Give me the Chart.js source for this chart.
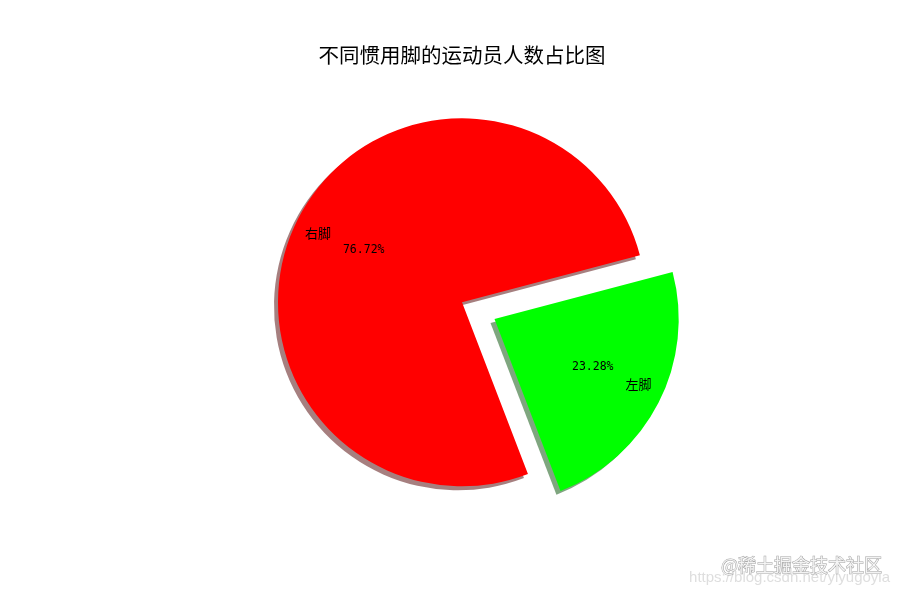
<!DOCTYPE html>
<html>
<head>
<meta charset="utf-8">
<script src="https://cdn.jsdelivr.net/npm/chart.js@4/dist/chart.umd.min.js"></script>
<style>
  html, body { margin: 0; padding: 0; background: #ffffff; }
  #wrap { width: 900px; height: 597px; position: relative; }
</style>
</head>
<body>
<div id="wrap"><canvas id="footChart"></canvas></div>
<script>
const footLabels = ["右脚", "左脚"];
const footShares = [76.72, 23.28];
const footColors = ["#ff0000", "#00ff00"];
const shadowColors = ["rgba(77,0,0,0.5)", "rgba(0,77,0,0.5)"];
const explodeOffsets = [0, 146];

const chartTitle = "不同惯用脚的运动员人数占比图";
const watermark = "@稀土掘金技术社区";
const watermarkUrl = "https://blog.csdn.net/yiyugoyia";

// chart.js moves an arc by offset / 4
function arcShift(el) {
  const mid = (el.startAngle + el.endAngle) / 2;
  const d = (el.options.offset || 0) / 4;
  return { mid, cx: el.x + Math.cos(mid) * d, cy: el.y + Math.sin(mid) * d };
}

const shadowPlugin = {
  id: "pieShadow",
  beforeDatasetsDraw(chart) {
    const ctx = chart.ctx;
    const arcs = chart.getDatasetMeta(0).data;
    arcs.forEach((el, i) => {
      const { cx, cy } = arcShift(el);
      ctx.save();
      ctx.fillStyle = shadowColors[i];
      ctx.beginPath();
      ctx.moveTo(cx - 4, cy + 4);
      ctx.arc(cx - 4, cy + 4, el.outerRadius, el.startAngle, el.endAngle);
      ctx.closePath();
      ctx.fill();
      ctx.restore();
    });
  },
};

const labelPlugin = {
  id: "pieLabels",
  afterDatasetsDraw(chart) {
    const ctx = chart.ctx;
    const arcs = chart.getDatasetMeta(0).data;
    arcs.forEach((el, i) => {
      const { mid, cx, cy } = arcShift(el);
      const r = el.outerRadius;
      const cos = Math.cos(mid);
      const sin = Math.sin(mid);
      ctx.save();
      ctx.fillStyle = "#000000";
      ctx.textBaseline = "middle";

      ctx.font = '13px "Noto Sans CJK SC"';
      ctx.textAlign = cos < 0 ? "right" : "left";
      ctx.fillText(footLabels[i], cx + cos * r * 0.8, cy + sin * r * 0.8 - 2);

      ctx.font = '11.5px "DejaVu Sans Mono"';
      ctx.textAlign = "center";
      ctx.fillText(footShares[i].toFixed(2) + "%", cx + cos * r * 0.6, cy + sin * r * 0.6 - 2);
      ctx.restore();
    });
  },
  afterDraw(chart) {
    const ctx = chart.ctx;
    ctx.save();
    ctx.textBaseline = "middle";
    ctx.font = '15px "Liberation Sans"';
    ctx.fillStyle = "rgba(200,200,200,0.6)";
    ctx.textAlign = "right";
    ctx.fillText(watermarkUrl, 890, 578);

    ctx.font = '18px "Noto Sans CJK SC"';
    ctx.lineWidth = 1;
    ctx.strokeStyle = "rgba(140,140,140,0.8)";
    ctx.fillStyle = "rgba(250,250,250,0.9)";
    ctx.strokeText(watermark, 882, 565);
    ctx.fillText(watermark, 882, 565);
    ctx.restore();
  },
};

new Chart(document.getElementById("footChart"), {
  type: "pie",
  data: {
    labels: footLabels,
    datasets: [
      {
        data: footShares,
        backgroundColor: footColors,
        borderWidth: 0,
        offset: explodeOffsets,
        hoverOffset: 0,
      },
    ],
  },
  options: {
    responsive: true,
    maintainAspectRatio: false,
    animation: false,
    events: [],
    rotation: 159,
    radius: 184,
    layout: {
      padding: { left: 24, top: 0, bottom: 60 },
    },
    plugins: {
      legend: { display: false },
      title: {
        display: true,
        text: chartTitle,
        color: "#000000",
        font: { family: '"Noto Sans CJK SC"', size: 20.5, weight: "normal", lineHeight: 1.2 },
        padding: { top: 43, bottom: 0 },
      },
      tooltip: { enabled: false },
    },
  },
  plugins: [shadowPlugin, labelPlugin],
});
</script>
</body>
</html>
